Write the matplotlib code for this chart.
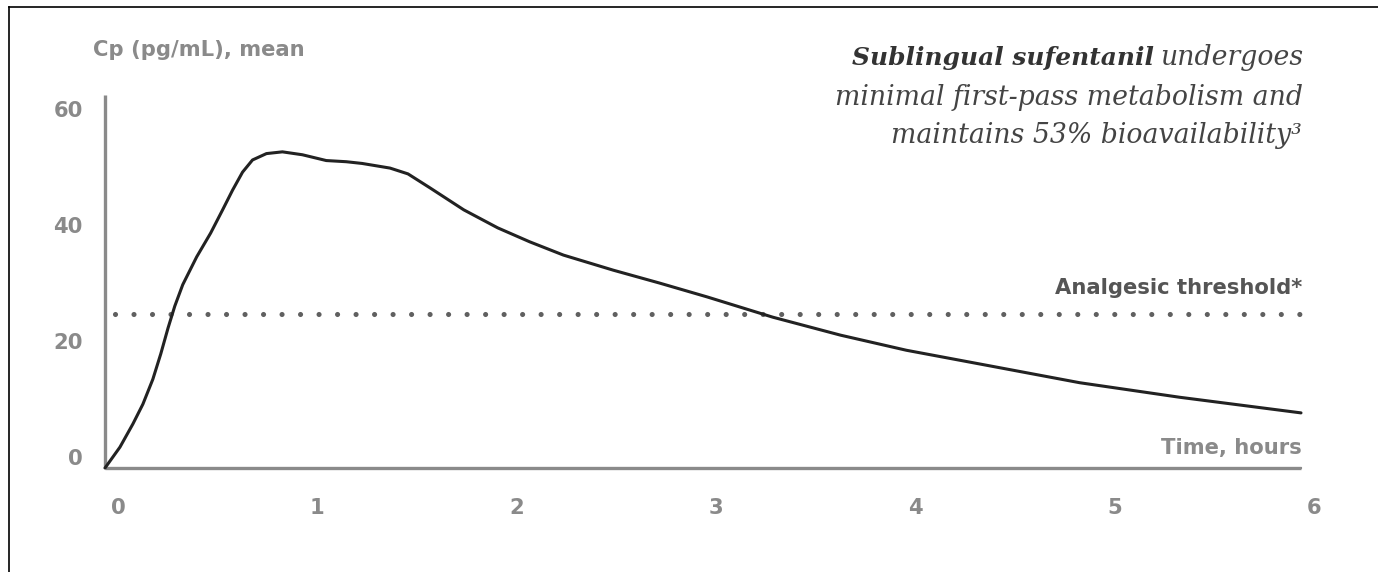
import matplotlib
matplotlib.use("Agg")
import matplotlib.pyplot as plt
from matplotlib.lines import Line2D
from matplotlib.transforms import ScaledTranslation

# Mean plasma concentration of sublingual sufentanil over time
time_h = [0.0, 0.075, 0.14, 0.19, 0.24, 0.28, 0.316, 0.35, 0.39, 0.46, 0.53,
          0.59, 0.64, 0.69, 0.74, 0.81, 0.89, 0.99, 1.11, 1.21, 1.29, 1.43,
          1.52, 1.63, 1.80, 1.97, 2.13, 2.30, 2.55, 2.78, 3.02, 3.35, 3.69,
          4.02, 4.44, 4.89, 5.39, 6.0]
cp_mean = [0.0, 3.6, 7.6, 11.0, 15.3, 19.7, 24.1, 27.9, 31.6, 36.4, 40.5,
           44.5, 47.9, 51.0, 53.1, 54.2, 54.5, 54.0, 53.0, 52.8, 52.5, 51.7,
           50.7, 48.3, 44.5, 41.4, 39.0, 36.7, 34.1, 31.9, 29.5, 26.0, 22.9,
           20.3, 17.6, 14.7, 12.2, 9.5]
threshold = 26.5

x_ticks = [0, 1, 2, 3, 4, 5, 6]
y_ticks = [0, 20, 40, 60]

W, H, DPI = 1378, 572, 100
fig = plt.figure(figsize=(W / DPI, H / DPI), dpi=DPI)
fig.patch.set_facecolor("white")

axis_grey = "#8a8a8a"
sans = ["DejaVu Sans"]
lab_size = 15.2

ax = fig.add_axes([105 / W, 104 / H, 1196 / W, 373 / H])
ax.set_xlim(0, 6)
ax.set_ylim(0, 64.3)
for side in ("top", "right"):
    ax.spines[side].set_visible(False)
for side in ("left", "bottom"):
    ax.spines[side].set_color(axis_grey)
    ax.spines[side].set_linewidth(2.4)
    ax.spines[side].set_capstyle("butt")

# threshold dots
ax.plot([0.05, 6.012], [threshold, threshold], color="#606060", lw=3.7,
        linestyle=(0, (0.001, 3.6)), dash_capstyle="round", zorder=2,
        clip_on=False)

# concentration curve
ax.plot(time_h, cp_mean, color="#222222", lw=2.2, solid_joinstyle="round",
        solid_capstyle="round", zorder=3, clip_on=False)

ax.set_xticks(x_ticks)
ax.set_xticks([0.5 + i for i in range(6)], minor=True)
ax.set_yticks(y_ticks)
ax.tick_params(axis="x", which="both", length=1.5, width=1.5, color=axis_grey,
               direction="inout", pad=21, labelsize=lab_size, labelcolor=axis_grey)
ax.tick_params(axis="y", length=0, pad=16, labelsize=lab_size, labelcolor=axis_grey)
for lab in ax.get_xticklabels():
    lab.set_fontfamily(sans)
    lab.set_fontweight("bold")
    lab.set_transform(lab.get_transform() + ScaledTranslation(13 / DPI, 0, fig.dpi_scale_trans))
for lab in ax.get_yticklabels():
    lab.set_fontfamily(sans)
    lab.set_fontweight("bold")
    lab.set_transform(lab.get_transform() + ScaledTranslation(0, 11 / DPI, fig.dpi_scale_trans))

# axis captions
fig.text(93 / W, 1 - 50 / H, "Cp (pg/mL), mean", family=sans, weight="bold",
         size=lab_size, color=axis_grey, ha="left", va="center")
fig.text(1302 / W, 1 - 448 / H, "Time, hours", family=sans, weight="bold",
         size=lab_size, color=axis_grey, ha="right", va="center")
fig.text(1302 / W, 1 - 288 / H, "Analgesic threshold*", family=sans, weight="bold",
         size=lab_size, color="#555555", ha="right", va="center")

# headline on the right
serif = ["DejaVu Serif"]
head_col = "#444444"
head_size = 19.3
t1 = fig.text(1303 / W, 1 - 65 / H, "undergoes", family=serif, style="italic",
              size=head_size, color=head_col, ha="right", va="baseline")
fig.text(1303 / W, 1 - 105 / H, "minimal first-pass metabolism and", family=serif,
         style="italic", size=head_size, color=head_col, ha="right", va="baseline")
fig.text(1302 / W, 1 - 143 / H, "maintains 53% bioavailability\u00b3", family=serif,
         style="italic", size=head_size, color=head_col, ha="right", va="baseline")
renderer = fig.canvas.get_renderer()
x0 = t1.get_window_extent(renderer).x0
fig.text((x0 - 6) / W, 1 - 65 / H, "Sublingual sufentanil", family=serif,
         style="italic", weight="bold", size=17.9, color="#333333",
         ha="right", va="baseline")

# frame lines along the top and left edges
fig.add_artist(Line2D([9 / W, 1], [1 - 7 / H, 1 - 7 / H], color="black", lw=1.2))
fig.add_artist(Line2D([9 / W, 9 / W], [0, 1 - 7 / H], color="black", lw=1.2))

fig.savefig("out.png", dpi=DPI, facecolor="white")
